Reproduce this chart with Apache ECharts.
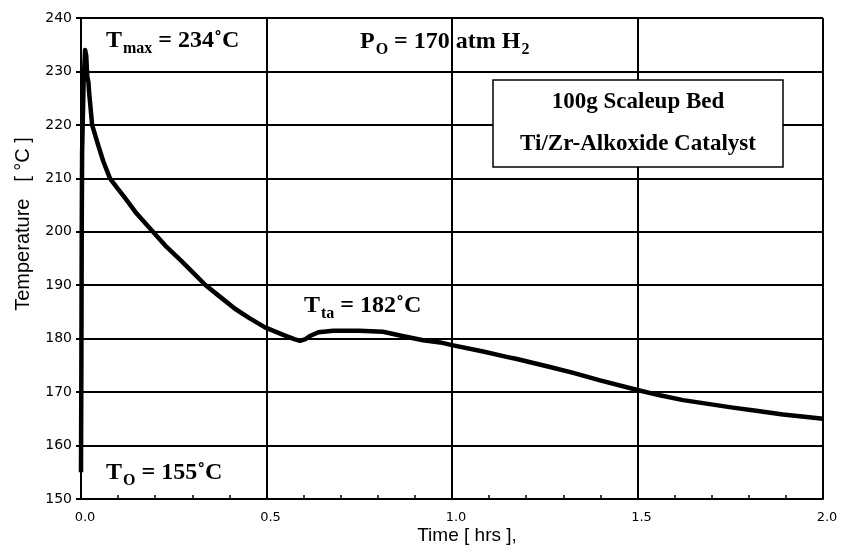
<!DOCTYPE html>
<html>
<head>
<meta charset="utf-8">
<script src="https://cdn.jsdelivr.net/npm/echarts@6/dist/echarts.min.js"></script>
<style>
  html, body { margin: 0; padding: 0; background: #fff; }
  #chart { width: 841px; height: 554px; }
</style>
</head>
<body>
<div id="chart"></div>
<script>
// time [hrs] and bed temperature [°C]
const timeHrs = [0, 0.001, 0.002, 0.003, 0.007, 0.011, 0.014, 0.017, 0.02, 0.022, 0.03, 0.045, 0.06, 0.078,
    0.1, 0.119, 0.15, 0.194, 0.23, 0.271, 0.3, 0.336, 0.37, 0.415, 0.455, 0.496, 0.545, 0.575, 0.59,
    0.605, 0.62, 0.64, 0.68, 0.75, 0.814, 0.86, 0.922, 0.968, 1.0, 1.084, 1.147, 1.175, 1.264, 1.327,
    1.399, 1.5, 1.56, 1.623, 1.69, 1.757, 1.82, 1.892, 1.95, 2.0];
const tempC = [155, 175, 200, 215, 228, 234, 233, 229, 228, 226, 220, 216.5, 213.2, 210,
    208, 206.3, 203.4, 200, 197.2, 194.5, 192.5, 190, 188.1, 185.6, 183.8, 182.1, 180.7, 179.9, 179.6,
    179.9, 180.6, 181.2, 181.5, 181.5, 181.3, 180.6, 179.7, 179.3, 178.8, 177.6, 176.6, 176.2, 174.7, 173.6,
    172.2, 170.4, 169.4, 168.5, 167.8, 167.1, 166.5, 165.8, 165.4, 165.0];
const xTicks = ['0.0', '0.5', '1.0', '1.5', '2.0'];
const yTicks = [150, 160, 170, 180, 190, 200, 210, 220, 230, 240];

const serif = '"Liberation Serif", "Times New Roman", serif';
const sans = '"Liberation Sans", Arial, sans-serif';
const big = { fontFamily: serif, fontWeight: 'bold', fontSize: 23, fill: '#000' };
const rich = {
    m: { fontFamily: serif, fontWeight: 'bold', fontSize: 24, color: '#000' },
    s: { fontFamily: serif, fontWeight: 'bold', fontSize: 16, color: '#000', padding: [15, 0, 0, 1] }
};

let myChart = echarts.init(document.getElementById('chart'));
let _ = {
    animation: false,
    backgroundColor: '#fff',
    grid: { left: 81, right: 18, top: 18, bottom: 55 },
    xAxis: {
        type: 'value',
        min: 0,
        max: 2,
        interval: 0.5,
        axisLine: { lineStyle: { color: '#000', width: 2 } },
        axisTick: { show: false, inside: true },
        minorTick: { show: true, splitNumber: 5, length: 4, lineStyle: { color: '#000', width: 1.5 } },
        axisLabel: {
            color: '#000', fontFamily: '"DejaVu Sans", sans-serif', fontSize: 13, margin: 12,
            padding: [0, 0, 0, 8],
            formatter: v => xTicks[Math.round(v * 2)]
        },
        splitLine: { show: true, lineStyle: { color: '#000', width: 2 } }
    },
    yAxis: {
        type: 'value',
        min: 150,
        max: 240,
        interval: 10,
        axisLine: { lineStyle: { color: '#000', width: 2 } },
        axisTick: { show: true, length: 5, lineStyle: { color: '#000', width: 2 } },
        axisLabel: {
            color: '#000', fontFamily: '"DejaVu Sans", sans-serif', fontSize: 14, margin: 9,
            formatter: v => (yTicks.indexOf(v) >= 0 ? String(v) : '')
        },
        splitLine: { show: true, lineStyle: { color: '#000', width: 2 } }
    },
    series: [{
        type: 'line',
        data: timeHrs.map((t, i) => [t, tempC[i]]),
        showSymbol: false,
        smooth: false,
        lineStyle: { color: '#000', width: 4.5, join: 'round' },
        z: 5
    }],
    graphic: [
        {
            type: 'text', x: 23, y: 224, rotation: Math.PI / 2, z: 10,
            style: { text: 'Temperature   [ °C ]', fontFamily: sans, fontSize: 20, fill: '#000', align: 'center', verticalAlign: 'middle' }
        },
        {
            type: 'text', x: 467, y: 536, z: 10,
            style: { text: 'Time [ hrs ],', fontFamily: sans, fontSize: 19, fill: '#000', align: 'center', verticalAlign: 'middle' }
        },
        {
            type: 'text', x: 106, y: 41, z: 10,
            style: { text: '{m|T}{s|max}{m| = 234˚C}', rich: rich, verticalAlign: 'middle' }
        },
        {
            type: 'text', x: 360, y: 42, z: 10,
            style: { text: '{m|P}{s|O}{m| = 170 atm H}{s|2}', rich: rich, verticalAlign: 'middle' }
        },
        {
            type: 'text', x: 304, y: 306, z: 10,
            style: { text: '{m|T}{s|ta}{m| = 182˚C}', rich: rich, verticalAlign: 'middle' }
        },
        {
            type: 'text', x: 106, y: 473, z: 10,
            style: { text: '{m|T}{s|O}{m| = 155˚C}', rich: rich, verticalAlign: 'middle' }
        },
        {
            type: 'rect', z: 10,
            shape: { x: 493, y: 80, width: 290, height: 87 },
            style: { fill: '#fff', stroke: '#000', lineWidth: 1.5 }
        },
        {
            type: 'text', x: 638, y: 102, z: 11,
            style: Object.assign({ text: '100g Scaleup Bed', align: 'center', verticalAlign: 'middle' }, big)
        },
        {
            type: 'text', x: 638, y: 144, z: 11,
            style: Object.assign({ text: 'Ti/Zr-Alkoxide Catalyst', align: 'center', verticalAlign: 'middle' }, big)
        }
    ]
};
myChart.setOption(_, true);
</script>
</body>
</html>
